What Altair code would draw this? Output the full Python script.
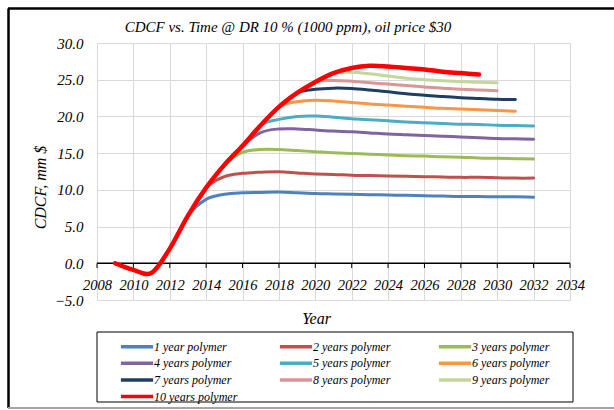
import altair as alt
import pandas as pd

SERIF = "'Liberation Serif', 'Times New Roman', Times, serif"

years = list(range(2009, 2033))
series_names = [
    "1 year polymer", "2 years polymer", "3 years polymer",
    "4 years polymer", "5 years polymer", "6 years polymer",
    "7 years polymer", "8 years polymer", "9 years polymer",
    "10 years polymer",
]
colors = ["#4F81BD", "#C0504D", "#9BBB59", "#8064A2", "#4BACC6",
          "#F79646", "#203D63", "#D99694", "#C3D69B", "#FF0000"]

s1 = [0, -0.9, -1.3, 2.0, 6.5, 8.7, 9.4, 9.6, 9.65, 9.7, 9.6, 9.5, 9.45,
      9.4, 9.35, 9.3, 9.25, 9.2, 9.15, 9.1, 9.1, 9.05, 9.05, 9.0]
s2 = [0, -0.9, -1.3, 2.0, 6.5, 10.3, 11.8, 12.25, 12.4, 12.45, 12.3, 12.15,
      12.1, 12.0, 11.95, 11.9, 11.85, 11.8, 11.75, 11.7, 11.7, 11.65, 11.6, 11.6]
s3 = [0, -0.9, -1.3, 2.0, 6.5, 10.3, 13.4, 15.1, 15.5, 15.5, 15.35, 15.2,
      15.05, 14.95, 14.85, 14.75, 14.65, 14.6, 14.5, 14.45, 14.35, 14.3, 14.25, 14.2]
s4 = [0, -0.9, -1.3, 2.0, 6.5, 10.3, 13.4, 16.0, 17.8, 18.3, 18.3, 18.15,
      18.0, 17.9, 17.75, 17.6, 17.5, 17.4, 17.3, 17.2, 17.1, 17.0, 16.95, 16.9]
s5 = [0, -0.9, -1.3, 2.0, 6.5, 10.3, 13.4, 16.0, 18.8, 19.6, 20.0, 20.05,
      19.9, 19.7, 19.55, 19.4, 19.25, 19.15, 19.05, 18.95, 18.9, 18.8, 18.75, 18.7]
s6 = [0, -0.9, -1.3, 2.0, 6.5, 10.3, 13.4, 16.0, 18.8, 21.3, 22.0, 22.2,
      22.1, 21.9, 21.7, 21.55, 21.4, 21.25, 21.1, 21.0, 20.9, 20.8, 20.7]
s7 = [0, -0.9, -1.3, 2.0, 6.5, 10.3, 13.4, 16.0, 18.8, 21.3, 23.2, 23.7,
      23.85, 23.8, 23.6, 23.35, 23.1, 22.9, 22.7, 22.55, 22.45, 22.35, 22.3]
s8 = [0, -0.9, -1.3, 2.0, 6.5, 10.3, 13.4, 16.0, 18.8, 21.3, 23.2, 24.7,
      24.9, 24.8, 24.6, 24.4, 24.2, 24.0, 23.85, 23.7, 23.6, 23.5]
s9 = [0, -0.9, -1.3, 2.0, 6.5, 10.3, 13.4, 16.0, 18.8, 21.3, 23.2, 24.7,
      25.9, 26.0, 25.8, 25.5, 25.2, 25.0, 24.85, 24.75, 24.65, 24.6]
s10 = [0, -0.9, -1.3, 2.0, 6.5, 10.3, 13.4, 16.0, 18.8, 21.3, 23.2, 24.7,
       25.9, 26.6, 26.9, 26.8, 26.6, 26.4, 26.1, 25.9, 25.7]
all_series = [s1, s2, s3, s4, s5, s6, s7, s8, s9, s10]

x_ticks = list(range(2008, 2035, 2))
y_ticks = [-5, 0, 5, 10, 15, 20, 25, 30]
title_text = "CDCF vs. Time @ DR 10 % (1000 ppm), oil price $30"

rows = []
for name, vals in zip(series_names, all_series):
    for yr, v in zip(years, vals):
        rows.append({"year": yr, "value": v, "series": name})
df = pd.DataFrame(rows)
tick_df = pd.DataFrame({"year": x_ticks})
one = pd.DataFrame({"k": [0]})

x_scale = alt.Scale(domain=[2008, 2034], nice=False, zero=False)
y_scale = alt.Scale(domain=[-5, 30], nice=False, zero=False)

x_axis = alt.Axis(
    values=x_ticks, format="d", grid=True, gridColor="#D9D9D9", gridWidth=1,
    domain=False, ticks=False, labelPadding=-14.5, labelBaseline="middle",
    labelFlush=False, labelOverlap=False, labelFont=SERIF,
    labelFontStyle="italic", labelFontSize=14.5, labelColor="#000",
    title="Year", titleFont=SERIF, titleFontSize=16, titleFontStyle="italic",
    titleFontWeight="normal", titleColor="#000", titleX=219, titleY=23,
    titleBaseline="alphabetic", titleAlign="center",
)
y_axis = alt.Axis(
    values=y_ticks, format=".1f", grid=True, gridColor="#D9D9D9", gridWidth=1,
    domain=False, ticks=False, labelPadding=14, labelOverlap=False,
    labelFlush=False, labelFont=SERIF, labelFontStyle="italic",
    labelFontSize=15, labelColor="#000",
    title="CDCF, mm $", titleFont=SERIF, titleFontSize=16,
    titleFontStyle="italic", titleFontWeight="normal", titleColor="#000",
    titleAngle=270, titleX=-57, titleY=144, titleBaseline="middle",
    titleAlign="center",
)

legend = alt.Legend(
    orient="none", legendX=31, legendY=294.7, title=None, columns=3,
    direction="horizontal",
    symbolType="M-2.3,0H2.3", symbolSize=196, symbolStrokeWidth=3.5,
    labelOffset=8, labelFont=SERIF, labelFontSize=12,
    labelFontStyle="italic", labelColor="#000", labelBaseline="middle",
    columnPadding=34, rowPadding=0.6, gridAlign="all", padding=0,
    labelLimit=300,
)

lines = alt.Chart(df).mark_line(interpolate="cardinal", strokeCap="round").encode(
    x=alt.X("year:Q", scale=x_scale, axis=x_axis),
    y=alt.Y("value:Q", scale=y_scale, axis=y_axis),
    color=alt.Color("series:N", scale=alt.Scale(domain=series_names, range=colors),
                    legend=legend, sort=series_names),
    strokeWidth=alt.condition(alt.datum.series == "10 years polymer",
                              alt.value(4.5), alt.value(3)),
)

zero_line = alt.Chart(one).mark_rule(color="#000", strokeWidth=1.5).encode(
    y=alt.Y(datum=0, scale=y_scale, axis=y_axis)
)
tick_marks = alt.Chart(tick_df).mark_rule(color="#000", strokeWidth=1).encode(
    x=alt.X("year:Q", scale=x_scale, axis=x_axis),
    y=alt.Y(datum=0, scale=y_scale, axis=y_axis),
    y2=alt.Y2(datum=-0.65),
)

title_mark = alt.Chart(one).mark_text(
    text=title_text, font=SERIF, fontSize=15, fontStyle="italic",
    color="#000", align="center", baseline="alphabetic",
).encode(x=alt.value(191), y=alt.value(-11))

legend_box = alt.Chart(one).mark_rect(filled=False, stroke="#000", strokeWidth=1).encode(
    x=alt.value(0), x2=alt.value(476), y=alt.value(289), y2=alt.value(359)
)
frame_top = alt.Chart(one).mark_rule(color="#000", strokeWidth=2.5).encode(
    x=alt.value(-89), x2=alt.value(520), y=alt.value(-34.5)
)
frame_left = alt.Chart(one).mark_rule(color="#000", strokeWidth=2.5).encode(
    x=alt.value(-88.5), y=alt.value(-34.5), y2=alt.value(365)
)
frame_bottom = alt.Chart(one).mark_rule(color="#A6A6A6", strokeWidth=2).encode(
    x=alt.value(-89), x2=alt.value(520), y=alt.value(365)
)

chart = alt.layer(
    zero_line, tick_marks, lines, title_mark, legend_box,
    frame_top, frame_left, frame_bottom
).properties(
    width=473, height=257,
    padding={"left": 97, "top": 43, "right": 44, "bottom": 110},
    autosize=alt.AutoSizeParams(type="none"),
).configure_view(stroke="#000", strokeWidth=1.5).configure(background="white")

chart.save("out.html", embed_options={"renderer": "svg", "actions": False})
